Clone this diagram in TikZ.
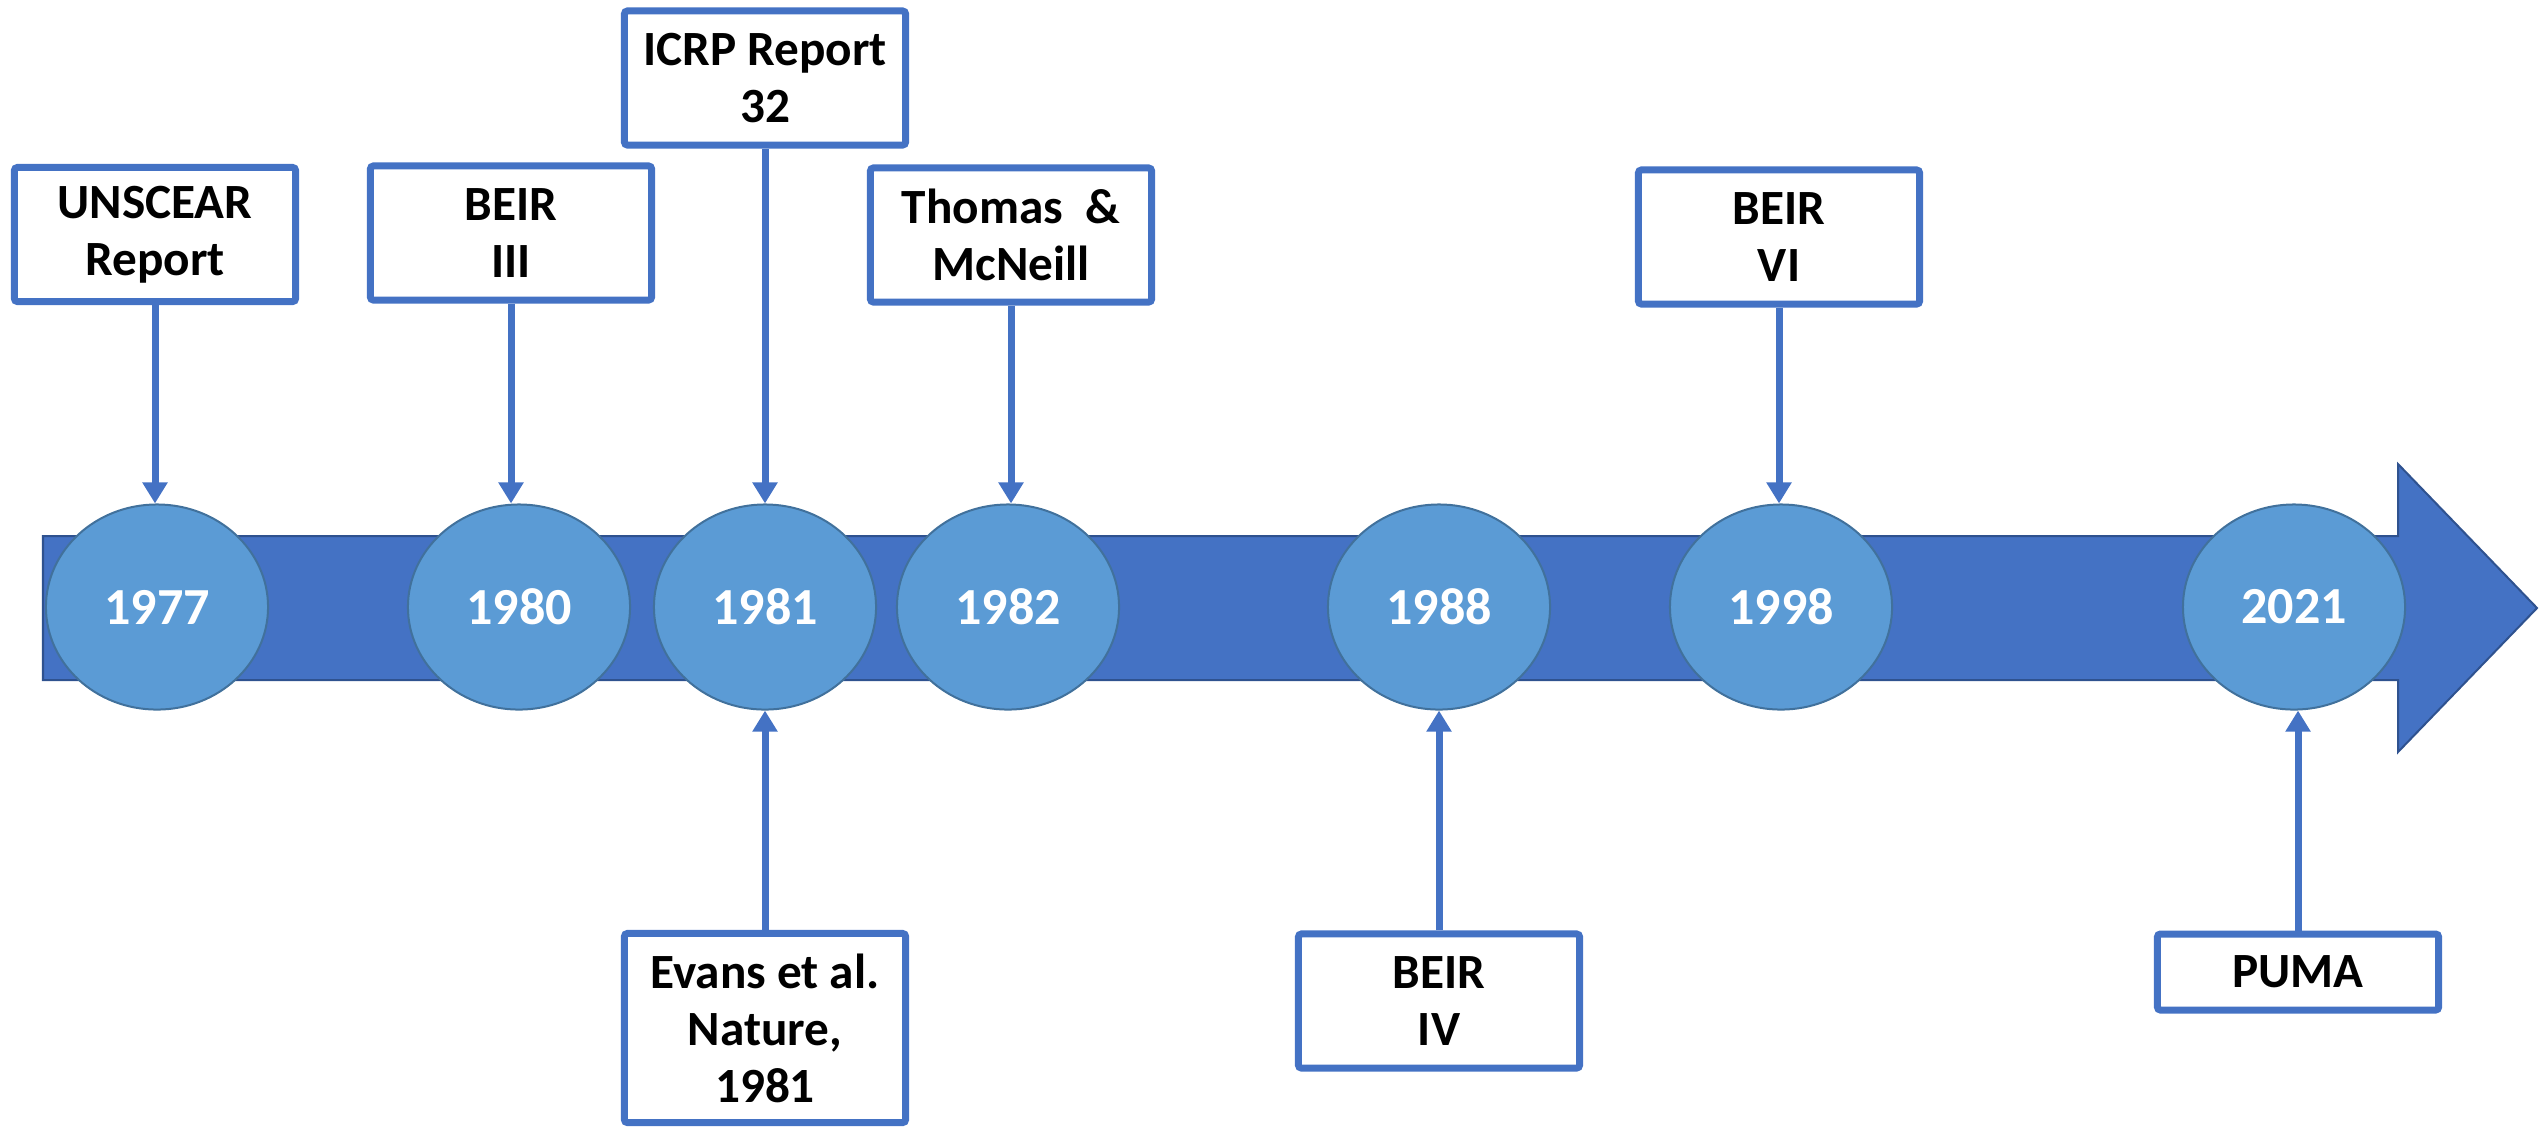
\documentclass[tikz,border=0pt]{standalone}
\usepackage{fontspec}
\setmainfont{Carlito}
\usetikzlibrary{arrows.meta,shapes.geometric}
\definecolor{boxblue}{HTML}{4472C4}
\definecolor{bandfill}{HTML}{4472C4}
\definecolor{bandedge}{HTML}{2F528F}
\definecolor{circfill}{HTML}{5B9BD5}
\definecolor{circedge}{HTML}{41719C}
\begin{document}
\begin{tikzpicture}[x=0.01cm,y=-0.01cm,
  lbl/.style={draw=boxblue, line width=0.07cm, fill=white, rounded corners=0.03cm,
    minimum width=2.81cm, minimum height=1.34cm, align=center, inner sep=0pt,
    font=\fontsize{14}{16.2}\selectfont\bfseries},
  yr/.style={ellipse, draw=circedge, line width=0.02cm, fill=circfill,
    minimum width=2.22cm, minimum height=2.05cm, inner sep=0pt, text=white,
    font=\fontsize{14.8}{17}\selectfont\bfseries},
  conn/.style={draw=boxblue, line width=0.07cm, -{Triangle[width=0.24cm,length=0.21cm]}}]
\useasboundingbox (0,0) rectangle (2540,1129);
% timeline band arrow
\draw[fill=bandfill, draw=bandedge, line width=0.02cm]
  (43,536) -- (2398,536) -- (2398,464) -- (2537,608) -- (2398,752) -- (2398,680) -- (43,680) -- cycle;
% year ellipses
\node[yr] (e1) at (157,607) {1977};
\node[yr] (e2) at (519,607) {1980};
\node[yr] (e3) at (765,607) {1981};
\node[yr] (e4) at (1008,607) {1982};
\node[yr] (e5) at (1439,607) {1988};
\node[yr] (e6) at (1781,607) {1998};
\node[yr] (e7) at (2294,607) {2021};
% label boxes
\node[lbl] (b1) at (155,234.5) {UNSCEAR\\Report};
\node[lbl] (b2) at (511,233) {BEIR\\III};
\node[lbl] (b3) at (765,78) {ICRP Report\\32};
\node[lbl] (b4) at (1011,235) {Thomas\ \ \&\\McNeill};
\node[lbl] (b5) at (1779,237) {BEIR\\VI};
\node[lbl, minimum height=1.89cm] (b6) at (765,1028) {Evans et al.\\Nature,\\1981};
\node[lbl] (b7) at (1439,1001) {BEIR\\IV};
\node[lbl, minimum height=0.76cm] (b8) at (2298,972) {PUMA};
% connectors
\draw[conn] (b1.south) -- (b1.south |- e1.north);
\draw[conn] (b2.south) -- (b2.south |- e2.north);
\draw[conn] (b3.south) -- (b3.south |- e3.north);
\draw[conn] (b4.south) -- (b4.south |- e4.north);
\draw[conn] (b5.south) -- (b5.south |- e6.north);
\draw[conn] (b6.north) -- (b6.north |- e3.south);
\draw[conn] (b7.north) -- (b7.north |- e5.south);
\draw[conn] (b8.north) -- (b8.north |- e7.south);
\end{tikzpicture}
\end{document}
